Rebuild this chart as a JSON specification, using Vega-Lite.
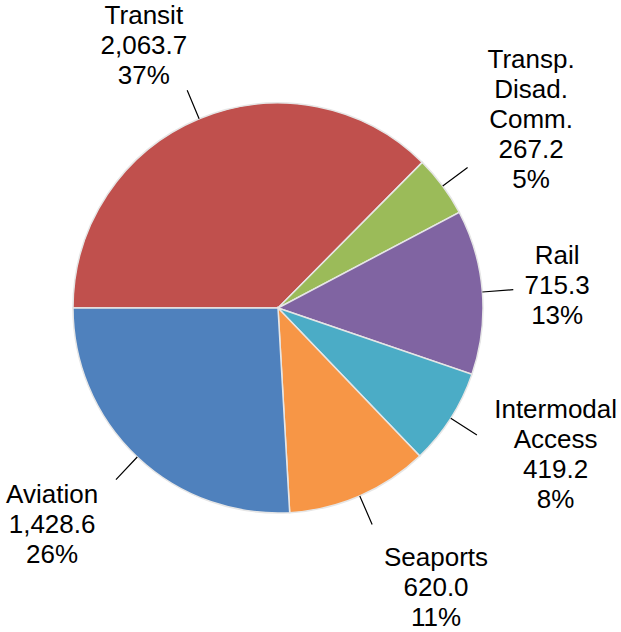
{
  "$schema": "https://vega.github.io/schema/vega-lite/v6.json",
  "autosize": "none",
  "width": 556,
  "height": 616,
  "padding": {"left": 0, "top": 0, "right": 65, "bottom": 16},
  "background": "white",
  "config": {"view": {"stroke": null}},
  "data": {"values": [
    {"order": 1, "category": "Transit", "value": 2063.7, "label": "Transit\n2,063.7\n37%"},
    {"order": 2, "category": "Transp. Disad. Comm.", "value": 267.2, "label": "Transp.\nDisad.\nComm.\n267.2\n5%"},
    {"order": 3, "category": "Rail", "value": 715.3, "label": "Rail\n715.3\n13%"},
    {"order": 4, "category": "Intermodal Access", "value": 419.2, "label": "Intermodal\nAccess\n419.2\n8%"},
    {"order": 5, "category": "Seaports", "value": 620.0, "label": "Seaports\n620.0\n11%"},
    {"order": 6, "category": "Aviation", "value": 1428.6, "label": "Aviation\n1,428.6\n26%"}
  ]},
  "transform": [
    {"window": [{"op": "sum", "field": "value", "as": "cum"}], "sort": [{"field": "order"}], "frame": [null, 0]},
    {"calculate": "datum.cum - datum.value / 2", "as": "mid"}
  ],
  "layer": [
    {
      "mark": {"type": "arc", "outerRadius": 205, "stroke": "#e6e6e6", "strokeWidth": 1.5},
      "encoding": {
        "theta": {"field": "value", "type": "quantitative", "stack": true, "scale": {"range": [4.712389, 10.995574]}},
        "order": {"field": "order", "type": "quantitative"},
        "color": {"field": "category", "type": "nominal", "legend": null,
          "scale": {"domain": ["Transit", "Transp. Disad. Comm.", "Rail", "Intermodal Access", "Seaports", "Aviation"],
                    "range": ["#C0504D", "#9BBB59", "#8064A2", "#4BACC6", "#F79646", "#4F81BD"]}}
      }
    },
    {
      "mark": {"type": "arc", "innerRadius": 205, "outerRadius": 236, "stroke": "black", "strokeWidth": 1.2, "fill": null},
      "encoding": {
        "theta": {"field": "mid", "type": "quantitative"},
        "theta2": {"field": "mid"}
      }
    },
    {
      "transform": [{"filter": "datum.category == 'Transit'"}],
      "mark": {"type": "text", "radius": 294, "dx": -21, "dy": -21, "font": "Liberation Sans", "fontSize": 26, "lineHeight": 30, "lineBreak": "\n", "align": "center", "baseline": "middle", "color": "black"},
      "encoding": {"theta": {"field": "mid", "type": "quantitative"}, "text": {"field": "label"}}
    },
    {
      "transform": [{"filter": "datum.category == 'Transp. Disad. Comm.'"}],
      "mark": {"type": "text", "radius": 315, "dx": 0, "dy": -60, "font": "Liberation Sans", "fontSize": 26, "lineHeight": 30, "lineBreak": "\n", "align": "center", "baseline": "middle", "color": "black"},
      "encoding": {"theta": {"field": "mid", "type": "quantitative"}, "text": {"field": "label"}}
    },
    {
      "transform": [{"filter": "datum.category == 'Rail'"}],
      "mark": {"type": "text", "radius": 280, "dx": 0, "dy": -30, "font": "Liberation Sans", "fontSize": 26, "lineHeight": 30, "lineBreak": "\n", "align": "center", "baseline": "middle", "color": "black"},
      "encoding": {"theta": {"field": "mid", "type": "quantitative"}, "text": {"field": "label"}}
    },
    {
      "transform": [{"filter": "datum.category == 'Intermodal Access'"}],
      "mark": {"type": "text", "radius": 314, "dx": 13, "dy": -67, "font": "Liberation Sans", "fontSize": 26, "lineHeight": 30, "lineBreak": "\n", "align": "center", "baseline": "middle", "color": "black"},
      "encoding": {"theta": {"field": "mid", "type": "quantitative"}, "text": {"field": "label"}}
    },
    {
      "transform": [{"filter": "datum.category == 'Seaports'"}],
      "mark": {"type": "text", "radius": 321, "dx": 30, "dy": -44, "font": "Liberation Sans", "fontSize": 26, "lineHeight": 30, "lineBreak": "\n", "align": "center", "baseline": "middle", "color": "black"},
      "encoding": {"theta": {"field": "mid", "type": "quantitative"}, "text": {"field": "label"}}
    },
    {
      "transform": [{"filter": "datum.category == 'Aviation'"}],
      "mark": {"type": "text", "radius": 313, "dx": -11, "dy": -41, "font": "Liberation Sans", "fontSize": 26, "lineHeight": 30, "lineBreak": "\n", "align": "center", "baseline": "middle", "color": "black"},
      "encoding": {"theta": {"field": "mid", "type": "quantitative"}, "text": {"field": "label"}}
    }
  ]
}
